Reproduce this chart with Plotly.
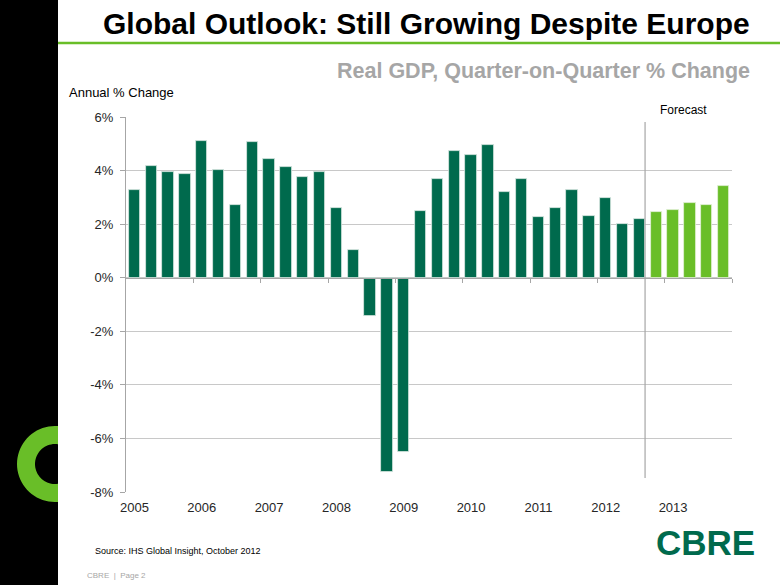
import math
import plotly.graph_objects as go

# ---------------- data ----------------
years = ["2005", "2006", "2007", "2008", "2009", "2010", "2011", "2012", "2013"]
history = [3.29, 4.17, 3.95, 3.89,
           5.11, 4.01, 2.72, 5.07,
           4.42, 4.12, 3.75, 3.96,
           2.62, 1.02, -1.43, -7.24,
           -6.50, 2.48, 3.69, 4.74,
           4.57, 4.96, 3.19, 3.68,
           2.27, 2.60, 3.28, 2.29,
           2.97, 1.99, 2.18]
forecast = [2.44, 2.54, 2.78, 2.72, 3.44]
y_ticks = [-8, -6, -4, -2, 0, 2, 4, 6]
y_tick_labels = ["-8%", "-6%", "-4%", "-2%", "0%", "2%", "4%", "6%"]

# ---------------- styling ----------------
W, H = 780, 585
ML, MR, MT, MB = 126, 48, 117, 93
PW, PH = W - ML - MR, H - MT - MB
DARK = "#006A4D"
LIGHT = "#69BE28"
GRID = "#C8C8C8"
AXIS = "#A6A6A6"
FONT = "Liberation Sans, Arial, sans-serif"
BAR_W = 0.67

def px(xp):
    return (xp - ML) / PW

def py(yp):
    return (H - MB - yp) / PH

n_hist = len(history)
n_all = n_hist + len(forecast)
hist_x = list(range(n_hist))
fc_x = list(range(n_hist, n_all))
year_pos = [4 * i for i in range(len(years))]
bound_pos = [4 * i - 0.5 for i in range(1, len(years) + 1)]
xr = [-0.5, n_all - 0.5]
yr = [y_ticks[0], y_ticks[-1]]

fig = go.Figure()
fig.add_trace(go.Bar(x=hist_x, y=history, width=BAR_W, marker=dict(color=DARK, line=dict(color="#DCE8E2", width=0.8)),
                     xaxis="x", yaxis="y", showlegend=False, hoverinfo="y"))
fig.add_trace(go.Bar(x=fc_x, y=forecast, width=BAR_W, marker=dict(color=LIGHT, line=dict(color="#E4F0DA", width=0.8)),
                     xaxis="x2", yaxis="y", showlegend=False, hoverinfo="y"))

shapes = []
# black strip on the left
shapes.append(dict(type="rect", xref="paper", yref="paper", x0=px(0), x1=px(58), y0=py(H), y1=py(0),
                   fillcolor="black", line=dict(width=0), layer="above"))
# green rule under the title
shapes.append(dict(type="line", xref="paper", yref="paper", x0=px(58), x1=px(W), y0=py(43), y1=py(43),
                   line=dict(color=LIGHT, width=2.5)))
# green "C" mark (ring clipped at strip edge)
cx, cy, ro, ri, edge = 55, 464, 38, 20, 58
a_o = math.degrees(math.acos((edge - cx) / ro))
a_i = math.degrees(math.acos((edge - cx) / ri))
pts = []
steps = 40
for k in range(steps + 1):
    a = math.radians(a_o + (360 - 2 * a_o) * k / steps)
    pts.append((cx + ro * math.cos(a), cy - ro * math.sin(a)))
for k in range(steps + 1):
    a = math.radians((360 - a_i) - (360 - 2 * a_i) * k / steps)
    pts.append((cx + ri * math.cos(a), cy - ri * math.sin(a)))
path = "M " + " L ".join(f"{px(x):.5f},{py(y):.5f}" for x, y in pts) + " Z"
shapes.append(dict(type="path", xref="paper", yref="paper", path=path, fillcolor=LIGHT,
                   line=dict(width=0), layer="above"))
# forecast divider
split = n_hist - 1 + BAR_W / 2
shapes.append(dict(type="line", xref="x", yref="paper", x0=split, x1=split, y0=py(122), y1=py(478),
                   line=dict(color=AXIS, width=1.2)))

ann = []
def text(t, x, y, size, color, xanchor="left", bold=False, yanchor="middle"):
    ann.append(dict(text=("<b>%s</b>" % t) if bold else t, xref="paper", yref="paper",
                    x=px(x), y=py(y), xanchor=xanchor, yanchor=yanchor, showarrow=False,
                    font=dict(family=FONT, size=size, color=color)))

text("Global Outlook: Still Growing Despite Europe", 752, 23, 30, "#000000", xanchor="right", bold=True)
text("Real GDP, Quarter-on-Quarter % Change", 752, 71, 21.5, "#A6A6A6", xanchor="right", bold=True)
text("Annual % Change", 67, 93, 13, "#000000")
text("Source: IHS Global Insight, October 2012", 93, 551, 9, "#000000")
text("CBRE  |  Page 2", 85, 575, 8, "#A6A6A6")
text("CBRE", 757, 542, 35, DARK, xanchor="right", bold=True)
ann.append(dict(text="Forecast", xref="x", yref="paper", x=n_hist + 1.6, y=py(110), xanchor="center",
                yanchor="middle", showarrow=False, font=dict(family=FONT, size=12, color="#000000")))

fig.update_layout(
    width=W, height=H, margin=dict(l=ML, r=MR, t=MT, b=MB, autoexpand=False),
    paper_bgcolor="white", plot_bgcolor="white", barmode="overlay", bargap=0,
    font=dict(family=FONT, size=13, color="#262626"),
    shapes=shapes, annotations=ann,
    xaxis=dict(range=xr, tickmode="array", tickvals=year_pos, ticktext=years, showgrid=False,
               zeroline=False, showline=False, ticks="", ticklabelstandoff=6,
               tickfont=dict(family=FONT, size=13, color="#262626")),
    xaxis2=dict(range=xr, matches="x", overlaying="x", anchor="free",
                position=(0 - yr[0]) / (yr[1] - yr[0]),
                tickmode="array", tickvals=bound_pos, showticklabels=False, ticks="outside",
                ticklen=4, tickcolor=AXIS, showline=True, linecolor=AXIS, linewidth=1,
                showgrid=False, zeroline=False),
    yaxis=dict(range=yr, tickmode="array", tickvals=y_ticks, ticktext=y_tick_labels,
               showgrid=True, gridcolor=GRID, gridwidth=1, zeroline=False,
               showline=True, linecolor=AXIS, linewidth=1, ticks="outside", ticklen=5,
               tickcolor=AXIS, ticklabelstandoff=4,
               tickfont=dict(family=FONT, size=13, color="#262626")),
)

fig.write_html("out.html")
